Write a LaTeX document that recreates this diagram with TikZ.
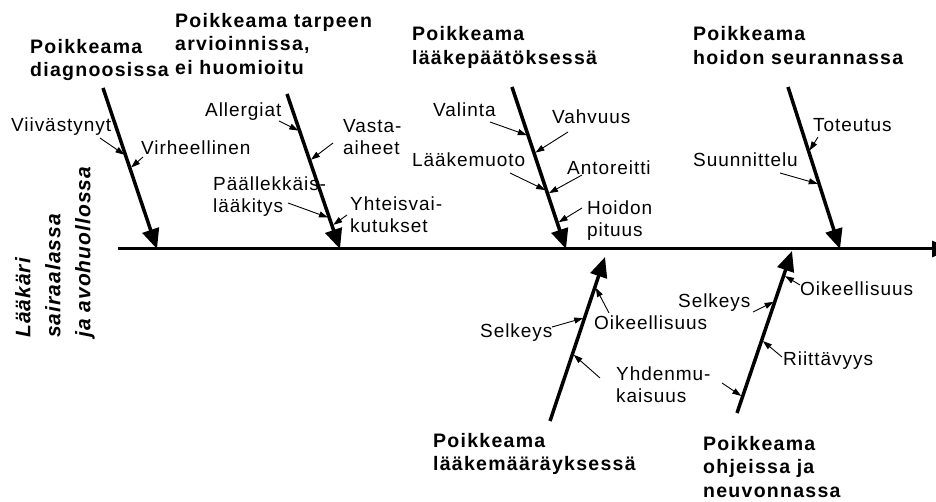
\documentclass[tikz,border=0pt]{standalone}
\usepackage{fontspec}
\setmainfont{Liberation Sans}
\newfontfamily\tekstifont[LetterSpace=5]{Liberation Sans}
\newfontfamily\otsikkofont[LetterSpace=6.5]{Liberation Sans}
\newfontfamily\pystyfont[LetterSpace=5]{Liberation Sans}
\usetikzlibrary{arrows.meta,calc}

\begin{document}
\begin{tikzpicture}[x=1pt,y=-1pt,
    runko/.style={line width=3pt,-{Triangle[length=20pt,width=16pt]}},
    luu/.style={line width=3.5pt,-{Triangle[length=20pt,width=17pt]}},
    pieni/.style={line width=0.9pt,-{Triangle[length=9pt,width=6pt]},shorten >=1.5pt},
    teksti/.style={inner sep=0pt,align=left,font=\tekstifont\fontsize{19}{22.3}\selectfont},
    otsikko/.style={inner sep=0pt,align=left,anchor=north west,font=\otsikkofont\bfseries\fontsize{19.5}{23.5}\selectfont},
    pysty/.style={inner sep=0pt,align=left,rotate=90,anchor=south west,font=\pystyfont\bfseries\itshape\fontsize{21}{30}\selectfont}]
    \useasboundingbox (0,0) rectangle (936,502);

    % Spine and its label
    \coordinate (runkoA) at (118,249);
    \coordinate (runkoB) at (952,249);
    \draw[runko] (runkoA) -- (runkoB);
    \node[pysty] (laakari) at (95,338) {Lääkäri\\sairaalassa\\ja avohuollossa};

    % Diagnosis
    \coordinate (luu1a) at (103,88);
    \coordinate (luu1b) at (157,249);
    \draw[luu] (luu1a) -- (luu1b);
    \node[otsikko] (diag) at (30,39) {Poikkeama\\diagnoosissa};
    \node[teksti,anchor=base west] (viiv) at (11,132) {Viivästynyt};
    \node[teksti,anchor=base west] (virh) at (141,155) {Virheellinen};
    \coordinate (viivA) at (100,138);
    \coordinate (virhA) at (143,157);
    \draw[pieni] (viivA) -- ($(luu1a)!.42!(luu1b)$);
    \draw[pieni] (virhA) -- ($(luu1a)!.5!(luu1b)$);

    % Need assessment
    \coordinate (luu2a) at (287,94);
    \coordinate (luu2b) at (340,249);
    \draw[luu] (luu2a) -- (luu2b);
    \node[otsikko] (tarve) at (175,13) {Poikkeama tarpeen\\arvioinnissa,\\ei huomioitu};
    \node[teksti,anchor=base west] (allerg) at (205,117) {Allergiat};
    \node[teksti,anchor=north west] (vasta) at (343,119.4) {Vasta-\\aiheet};
    \node[teksti,anchor=north west] (paallek) at (213,176.4) {Päällekkäis-\\lääkitys};
    \node[teksti,anchor=north west] (yhteis) at (350,196.4) {Yhteisvai-\\kutukset};
    \coordinate (allergA) at (279,121);
    \coordinate (vastaA) at (333,143);
    \coordinate (paallekA) at (288,203);
    \coordinate (yhteisA) at (347,215);
    \draw[pieni] (allergA) -- ($(luu2a)!.24!(luu2b)$);
    \draw[pieni] (vastaA) -- ($(luu2a)!.43!(luu2b)$);
    \draw[pieni] (paallekA) -- ($(luu2a)!.8!(luu2b)$);
    \draw[pieni] (yhteisA) -- ($(luu2a)!.85!(luu2b)$);

    % Drug decision
    \coordinate (luu3a) at (512,87);
    \coordinate (luu3b) at (566,249);
    \draw[luu] (luu3a) -- (luu3b);
    \node[otsikko] (paatos) at (412,26.5) {Poikkeama\\lääkepäätöksessä};
    \node[teksti,anchor=base west] (valinta) at (433,117) {Valinta};
    \node[teksti,anchor=base west] (vahvuus) at (552,124) {Vahvuus};
    \node[teksti,anchor=base west] (muoto) at (412,167) {Lääkemuoto};
    \node[teksti,anchor=base west] (antor) at (567,175) {Antoreitti};
    \node[teksti,anchor=north west] (hoidon) at (587,200.4) {Hoidon\\pituus};
    \coordinate (valintaA) at (490,122);
    \coordinate (vahvuusA) at (568,132);
    \coordinate (muotoA) at (510,173);
    \coordinate (antorA) at (582,175);
    \coordinate (hoidonA) at (582,208);
    \draw[pieni] (valintaA) -- ($(luu3a)!.3!(luu3b)$);
    \draw[pieni] (vahvuusA) -- ($(luu3a)!.41!(luu3b)$);
    \draw[pieni] (muotoA) -- ($(luu3a)!.64!(luu3b)$);
    \draw[pieni] (antorA) -- ($(luu3a)!.66!(luu3b)$);
    \draw[pieni] (hoidonA) -- ($(luu3a)!.84!(luu3b)$);

    % Follow-up
    \coordinate (luu4a) at (788,87);
    \coordinate (luu4b) at (840,249);
    \draw[luu] (luu4a) -- (luu4b);
    \node[otsikko] (seuranta) at (693,26.5) {Poikkeama\\hoidon seurannassa};
    \node[teksti,anchor=base west] (toteutus) at (813,132) {Toteutus};
    \node[teksti,anchor=base west] (suunn) at (693,167) {Suunnittelu};
    \coordinate (toteutusA) at (818,137);
    \coordinate (suunnA) at (780,173);
    \draw[pieni] (toteutusA) -- ($(luu4a)!.4!(luu4b)$);
    \draw[pieni] (suunnA) -- ($(luu4a)!.6!(luu4b)$);

    % Prescription
    \coordinate (luu5a) at (550,421);
    \coordinate (luu5b) at (605,257);
    \draw[luu] (luu5a) -- (luu5b);
    \node[otsikko] (maarays) at (433,433) {Poikkeama\\lääkemääräyksessä};
    \node[teksti,anchor=base west] (selk1) at (480,337) {Selkeys};
    \node[teksti,anchor=base west] (oik1) at (594,330) {Oikeellisuus};
    \node[teksti,anchor=north west] (yhden) at (616,366.4) {Yhdenmu-\\kaisuus};
    \coordinate (selk1A) at (552,327);
    \coordinate (oik1A) at (609,313);
    \coordinate (yhden1A) at (600,378);
    \draw[pieni] (selk1A) -- ($(luu5a)!.63!(luu5b)$);
    \draw[pieni] (oik1A) -- ($(luu5a)!.82!(luu5b)$);
    \draw[pieni] (yhden1A) -- ($(luu5a)!.41!(luu5b)$);

    % Instructions and counselling
    \coordinate (luu6a) at (737,413);
    \coordinate (luu6b) at (792,251);
    \draw[luu] (luu6a) -- (luu6b);
    \node[otsikko] (ohje) at (703,436) {Poikkeama\\ohjeissa ja\\neuvonnassa};
    \node[teksti,anchor=base west] (selk2) at (678,308) {Selkeys};
    \node[teksti,anchor=base west] (oik2) at (800,295) {Oikeellisuus};
    \node[teksti,anchor=base west] (riitt) at (783,365) {Riittävyys};
    \coordinate (selk2A) at (753,312);
    \coordinate (oik2A) at (800,285);
    \coordinate (riittA) at (782,357);
    \coordinate (yhden2A) at (722,383);
    \draw[pieni] (selk2A) -- ($(luu6a)!.69!(luu6b)$);
    \draw[pieni] (oik2A) -- ($(luu6a)!.85!(luu6b)$);
    \draw[pieni] (riittA) -- ($(luu6a)!.45!(luu6b)$);
    \draw[pieni] (yhden2A) -- ($(luu6a)!.1!(luu6b)$);
\end{tikzpicture}
\end{document}
